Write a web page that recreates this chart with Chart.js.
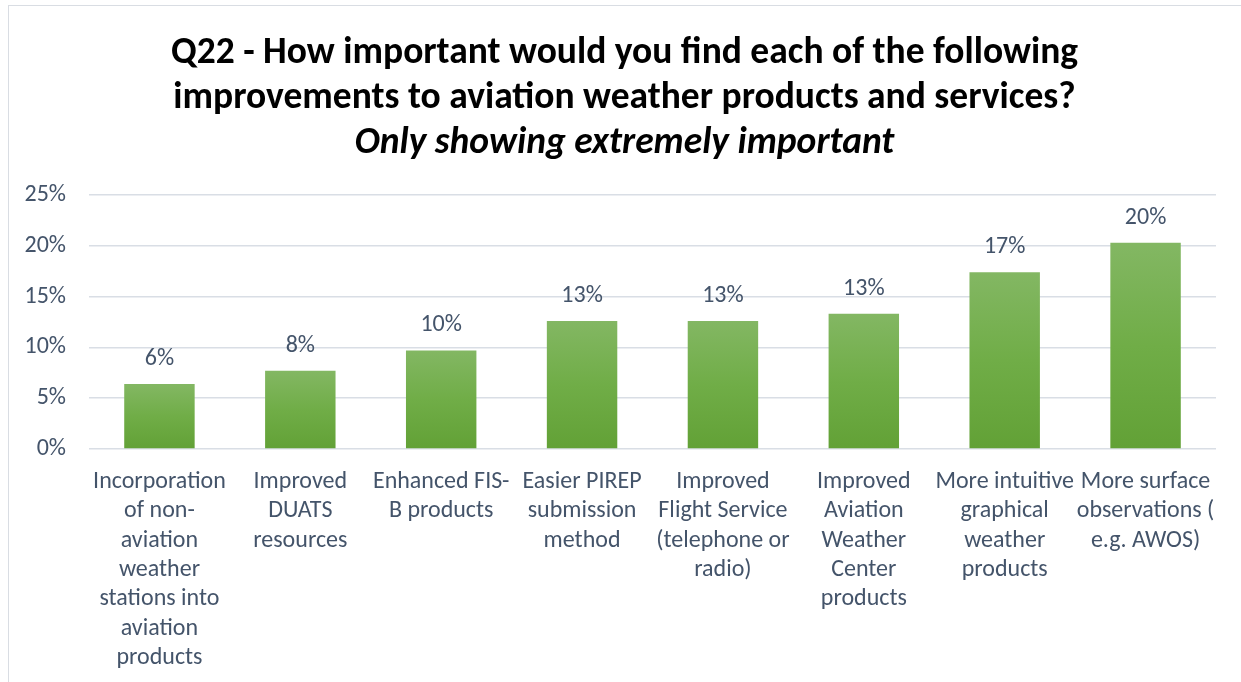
<!DOCTYPE html>
<html>
<head>
<meta charset="utf-8">
<script src="https://cdn.jsdelivr.net/npm/chart.js@4.4.1/dist/chart.umd.min.js"></script>
<style>
  html, body { margin: 0; padding: 0; background: #fff; overflow: hidden; }
  body { width: 1241px; height: 682px; position: relative; }
  .frame {
    position: absolute; left: 8px; top: 5px; width: 1400px; height: 900px;
    border: 1.5px solid #d9dde3; box-sizing: border-box;
  }
  #chart { position: absolute; left: 0; top: 0; }
</style>
</head>
<body>
<div class="frame"></div>
<canvas id="chart" width="1241" height="682"></canvas>
<script>
const FONT = "Carlito, 'Open Sans', Lato, sans-serif";
const TEXT = "#44546a";

const titleLines = [
  "Q22 - How important would you find each of the following",
  "improvements to aviation weather products and services?"
];
const subtitleLine = "Only showing extremely important";

const categories = [
  ["Incorporation", "of non-", "aviation", "weather", "stations into", "aviation", "products"],
  ["Improved", "DUATS", "resources"],
  ["Enhanced FIS-", "B products"],
  ["Easier PIREP", "submission", "method"],
  ["Improved", "Flight Service", "(telephone or", "radio)"],
  ["Improved", "Aviation", "Weather", "Center", "products"],
  ["More intuitive", "graphical", "weather", "products"],
  ["More surface", "observations (", "e.g. AWOS)"]
];

// share answering "extremely important", in percent
const extremelyImportant = [6.4, 7.7, 9.7, 12.6, 12.6, 13.3, 17.4, 20.3];

const yTicks = [0, 5, 10, 15, 20, 25];

// each bar gets its own light-to-dark vertical gradient
function barGradient(ctx) {
  const chart = ctx.chart;
  const y = chart.scales && chart.scales.y;
  if (!y || ctx.raw === undefined) return "#70ad47";
  const top = y.getPixelForValue(ctx.raw);
  const base = y.getPixelForValue(0);
  if (!isFinite(top) || !isFinite(base) || top === base) return "#70ad47";
  const g = chart.ctx.createLinearGradient(0, top, 0, base);
  g.addColorStop(0, "#83b763");
  g.addColorStop(0.5, "#70ad47");
  g.addColorStop(1, "#62a136");
  return g;
}

// value labels above the bars
const valueLabels = {
  id: "valueLabels",
  afterDatasetsDraw(chart) {
    const ctx = chart.ctx;
    const meta = chart.getDatasetMeta(0);
    ctx.save();
    ctx.font = "24px " + FONT;
    ctx.fillStyle = TEXT;
    ctx.textAlign = "center";
    ctx.textBaseline = "middle";
    meta.data.forEach((bar, i) => {
      const v = chart.data.datasets[0].data[i];
      ctx.fillText(Math.round(v) + "%", bar.x, bar.y - 25);
    });
    ctx.restore();
  }
};

new Chart(document.getElementById("chart"), {
  type: "bar",
  data: {
    labels: categories,
    datasets: [{
      data: extremelyImportant,
      backgroundColor: barGradient,
      borderWidth: 0,
      categoryPercentage: 1,
      barPercentage: 0.5
    }]
  },
  options: {
    responsive: false,
    animation: false,
    devicePixelRatio: 1,
    layout: { padding: { left: 8, right: 0, top: 0, bottom: 0 } },
    plugins: {
      legend: { display: false },
      tooltip: { enabled: false },
      title: {
        display: true,
        text: titleLines,
        color: "#000",
        font: { family: FONT, size: 37.5, weight: "bold", lineHeight: 1.2 },
        padding: { top: 31.5, bottom: 0 }
      },
      subtitle: {
        display: true,
        text: subtitleLine,
        color: "#000",
        font: { family: FONT, size: 37.5, weight: "bold", style: "italic", lineHeight: 1.2 },
        padding: { top: 0, bottom: 28.5 }
      }
    },
    scales: {
      x: {
        grid: { display: false, drawTicks: false },
        border: { display: false },
        ticks: {
          color: TEXT,
          font: { family: FONT, size: 24, lineHeight: 1.22 },
          padding: 18.5,
          autoSkip: false,
          maxRotation: 0,
          minRotation: 0
        },
        afterFit(scale) { scale.height = 233; }
      },
      y: {
        min: 0,
        max: 25,
        afterBuildTicks(scale) { scale.ticks = yTicks.map(v => ({ value: v })); },
        grid: { color: "#d9dee5", lineWidth: 1.5, drawTicks: false },
        border: { display: false },
        ticks: {
          color: TEXT,
          font: { family: FONT, size: 24 },
          padding: 23,
          callback: v => v + "%"
        },
        afterFit(scale) { scale.width = 81; }
      },
      // empty right-hand gutter between the plot and the frame edge
      gutter: {
        type: "linear",
        position: "right",
        grid: { display: false, drawTicks: false },
        border: { display: false },
        ticks: { display: false },
        afterFit(scale) { scale.width = 25; }
      }
    }
  },
  plugins: [valueLabels]
});
</script>
</body>
</html>
